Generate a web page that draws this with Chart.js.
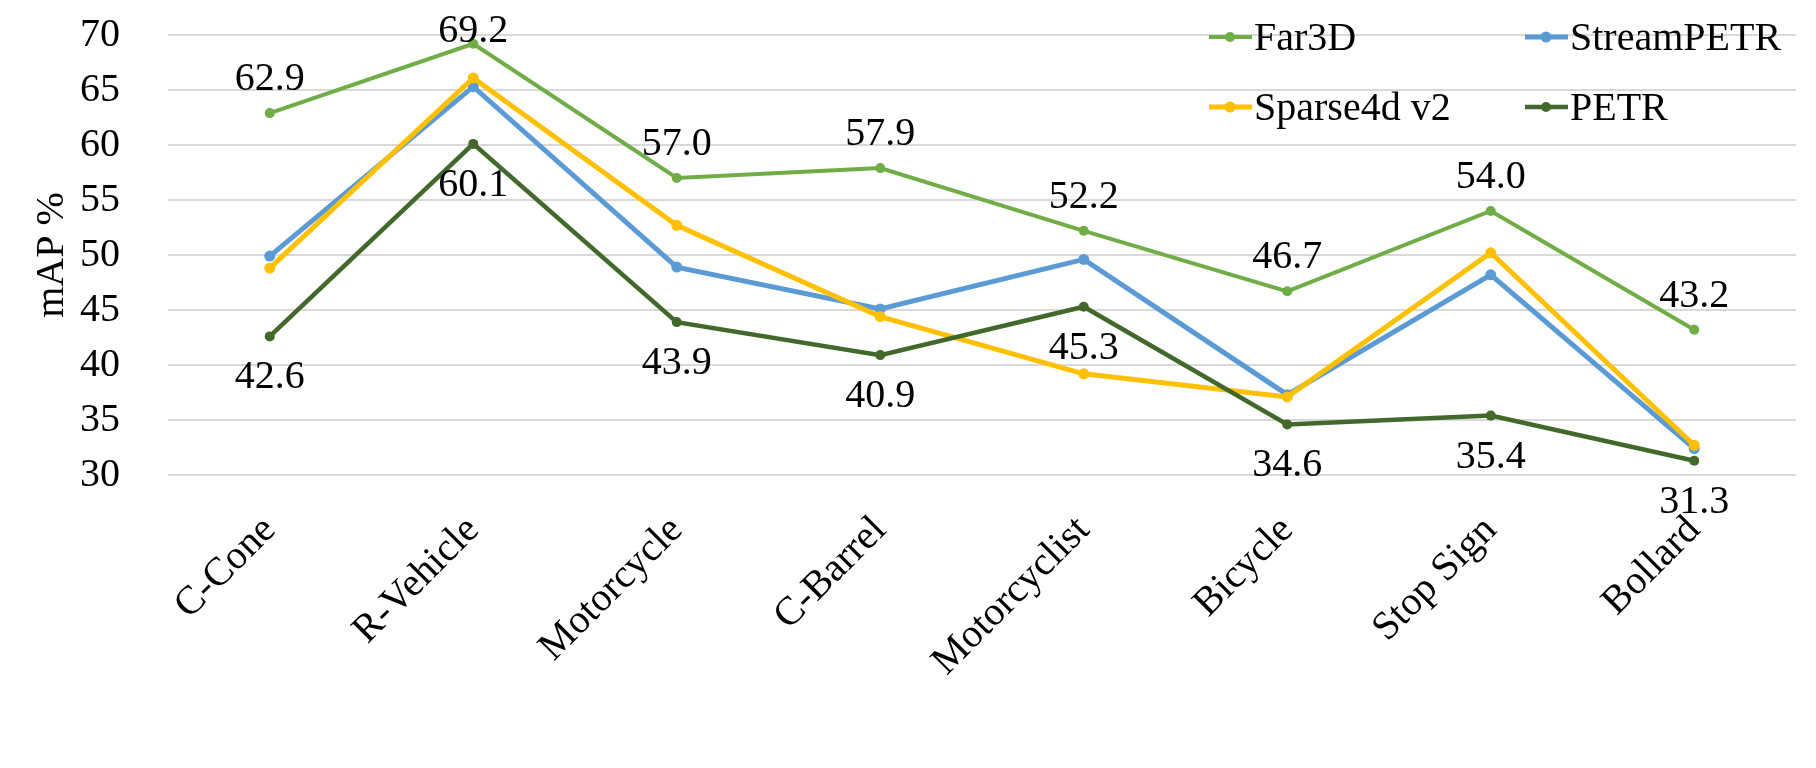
<!DOCTYPE html>
<html>
<head>
<meta charset="utf-8">
<script src="https://cdn.jsdelivr.net/npm/chart.js@4.4.1/dist/chart.umd.min.js"></script>
<style>
  html, body { margin: 0; padding: 0; background: #fff; }
  #wrap { width: 1816px; height: 768px; }
</style>
</head>
<body>
<div id="wrap"><canvas id="mapChart" width="1816" height="768"></canvas></div>
<script>
// categories and per-method mAP values
const categories = ['C-Cone', 'R-Vehicle', 'Motorcycle', 'C-Barrel', 'Motorcyclist', 'Bicycle', 'Stop Sign', 'Bollard'];
const far3d = [62.9, 69.2, 57.0, 57.9, 52.2, 46.7, 54.0, 43.2];
const streamPetr = [49.9, 65.3, 48.9, 45.1, 49.6, 37.3, 48.2, 32.4];
const sparse4dV2 = [48.8, 66.1, 52.7, 44.4, 39.2, 37.1, 50.2, 32.7];
const petr = [42.6, 60.1, 43.9, 40.9, 45.3, 34.6, 35.4, 31.3];
const yTicks = [30, 35, 40, 45, 50, 55, 60, 65, 70];

const FONT = '"Liberation Serif", "Times New Roman", serif';

// which series get value labels, and where
const labelSide = { 'Far3D': 'above', 'PETR': 'below' };

// legend drawn by hand so it sits in two aligned columns like the original
const legendPlugin = {
  id: 'gridLegend',
  afterDraw(chart) {
    const ctx = chart.ctx;
    const cols = [1209, 1525];
    const rows = [37, 107];
    ctx.save();
    ctx.font = '40px ' + FONT;
    ctx.textBaseline = 'middle';
    ctx.textAlign = 'left';
    chart.data.datasets.forEach((ds, i) => {
      const x = cols[i % 2];
      const y = rows[Math.floor(i / 2)];
      ctx.strokeStyle = ds.borderColor;
      ctx.lineWidth = ds.borderWidth;
      ctx.beginPath();
      ctx.moveTo(x, y);
      ctx.lineTo(x + 43, y);
      ctx.stroke();
      ctx.fillStyle = ds.borderColor;
      ctx.beginPath();
      ctx.arc(x + 21, y, ds.pointRadius, 0, Math.PI * 2);
      ctx.fill();
      ctx.fillStyle = '#000';
      ctx.fillText(ds.label, x + 45, y + 2);
    });
    ctx.restore();
  }
};

// value labels; labels above are kept inside the plot like Excel does
const valueLabels = {
  id: 'valueLabels',
  afterDatasetsDraw(chart) {
    const ctx = chart.ctx;
    const minBaseline = chart.chartArea.top + 7;
    ctx.save();
    ctx.font = '40px ' + FONT;
    ctx.fillStyle = '#000';
    ctx.textAlign = 'center';
    ctx.textBaseline = 'alphabetic';
    chart.data.datasets.forEach((ds, di) => {
      const side = labelSide[ds.label];
      if (!side) return;
      chart.getDatasetMeta(di).data.forEach((pt, i) => {
        const txt = ds.data[i].toFixed(1);
        const y = side === 'above' ? Math.max(pt.y - 23, minBaseline) : pt.y + 52;
        ctx.fillText(txt, pt.x, y);
      });
    });
    ctx.restore();
  }
};

function series(label, data, color, width, radius, order) {
  return {
    label: label,
    data: data,
    borderColor: color,
    backgroundColor: color,
    borderWidth: width,
    pointRadius: radius,
    pointHoverRadius: radius,
    pointBorderWidth: 0,
    tension: 0,
    order: order
  };
}

const ctx = document.getElementById('mapChart').getContext('2d');
const mapChart = new Chart(ctx, {
  type: 'line',
  data: {
    labels: categories,
    datasets: [
      series('Far3D', far3d, '#70AD47', 4, 5, 4),
      series('StreamPETR', streamPetr, '#5B9BD5', 5, 5.5, 3),
      series('Sparse4d v2', sparse4dV2, '#FFC000', 5, 5.5, 2),
      series('PETR', petr, '#43682B', 4.5, 5, 1)
    ]
  },
  options: {
    responsive: false,
    animation: false,
    devicePixelRatio: 1,
    layout: { padding: { top: 35, right: 20, left: 24, bottom: 0 } },
    plugins: {
      legend: { display: false },
      tooltip: { enabled: false },
      title: { display: false }
    },
    scales: {
      x: {
        offset: true,
        grid: { display: false, drawTicks: false },
        border: { display: false },
        ticks: {
          color: '#000',
          font: { family: FONT, size: 40 },
          minRotation: 45,
          maxRotation: 45,
          autoSkip: false,
          padding: 32
        },
        afterFit(scale) {
          scale.height = 768 - 475;
          scale.paddingLeft = 0;
          scale.paddingRight = 0;
        }
      },
      y: {
        min: 30,
        max: 70,
        afterBuildTicks(scale) { scale.ticks = yTicks.map(v => ({ value: v })); },
        grid: { color: '#D9D9D9', lineWidth: 2, drawTicks: false },
        border: { display: false },
        ticks: {
          color: '#000',
          font: { family: FONT, size: 40 },
          autoSkip: false,
          padding: 48
        },
        title: {
          display: true,
          text: 'mAP %',
          color: '#000',
          font: { family: FONT, size: 40 }
        },
        afterFit(scale) {
          scale.width = 144;
          scale.paddingTop = 0;
          scale.paddingBottom = 0;
        }
      }
    }
  },
  plugins: [valueLabels, legendPlugin]
});
</script>
</body>
</html>
